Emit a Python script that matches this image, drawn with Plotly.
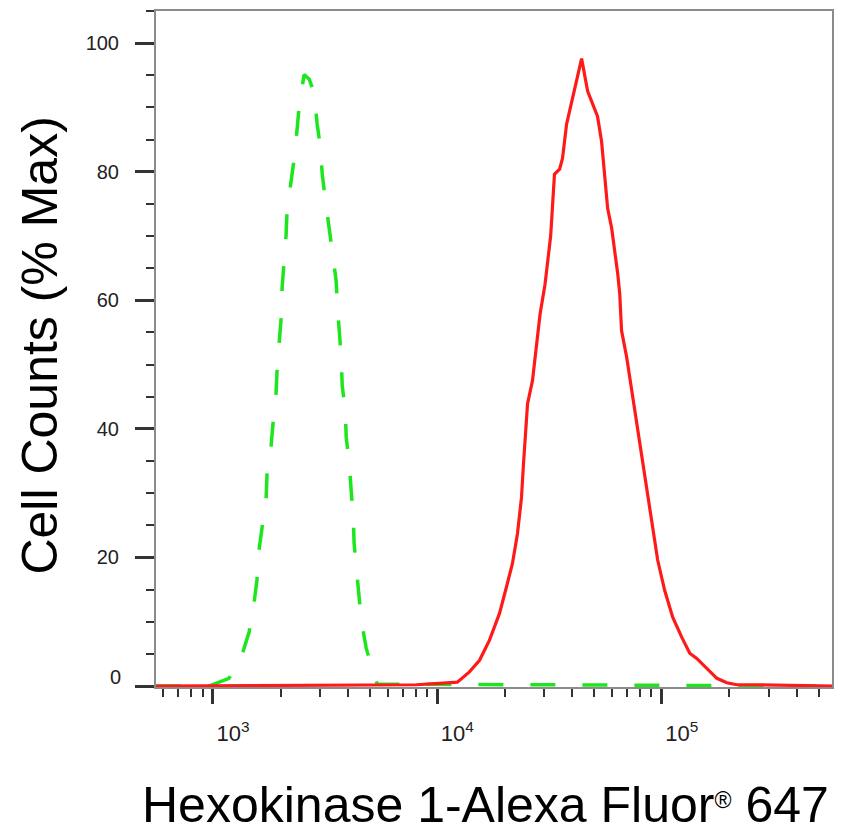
import plotly.graph_objects as go

# ---- data (log10 of fluorescence, % of max) ----
control_log = [2.746, 2.982, 3.071, 3.129, 3.161, 3.183, 3.196, 3.205, 3.219, 3.237, 3.241,
               3.259, 3.268, 3.281, 3.286, 3.295, 3.304, 3.308, 3.317, 3.326, 3.330, 3.348,
               3.362, 3.375, 3.384, 3.406, 3.429, 3.451, 3.464, 3.478, 3.487, 3.500, 3.518,
               3.531, 3.549, 3.554, 3.562, 3.571, 3.576, 3.589, 3.594, 3.607, 3.616, 3.625,
               3.629, 3.638, 3.652, 3.661, 3.683, 3.710, 3.732, 5.759]
control_pct = [0.0, 0.0, 1.2, 4.8, 8.4, 12.9, 16.5, 21.1, 24.7, 29.4, 33.1,
               37.4, 41.0, 45.5, 49.4, 53.7, 57.3, 61.9, 65.7, 70.3, 73.9, 78.5,
               82.1, 86.6, 90.2, 95.1, 94.4, 92.2, 87.5, 84.0, 79.6, 75.9, 71.2,
               67.7, 63.0, 59.4, 55.3, 51.4, 46.7, 43.1, 38.6, 34.8, 30.4, 26.5,
               22.2, 18.5, 14.1, 10.2, 5.9, 2.5, 0.3, 0.0]

sample_log = [2.746, 3.906, 4.009, 4.089, 4.143, 4.188, 4.232, 4.277, 4.308, 4.335, 4.357,
              4.375, 4.384, 4.393, 4.402, 4.424, 4.442, 4.458, 4.480, 4.505, 4.522, 4.545,
              4.558, 4.576, 4.589, 4.612, 4.634, 4.643, 4.670, 4.692, 4.714, 4.732, 4.746,
              4.759, 4.777, 4.790, 4.804, 4.813, 4.821, 4.844, 4.871, 4.893, 4.915, 4.938,
              4.960, 4.982, 5.013, 5.049, 5.089, 5.125, 5.156, 5.201, 5.246, 5.290, 5.335,
              5.415, 5.759]
sample_pct = [0.0, 0.2, 0.4, 0.6, 2.2, 4.0, 7.1, 11.3, 15.4, 19.1, 23.7,
              29.3, 34.6, 39.7, 43.9, 47.5, 52.6, 57.9, 62.5, 70.0, 79.6, 80.4,
              82.1, 87.4, 89.4, 93.0, 96.1, 97.6, 92.5, 90.5, 88.6, 84.7, 79.6,
              74.3, 71.2, 68.1, 64.1, 61.0, 55.3, 51.1, 44.9, 39.7, 34.6, 29.3,
              24.2, 19.6, 14.9, 10.7, 7.6, 5.1, 4.3, 2.8, 1.2, 0.5, 0.2,
              0.2, 0.0]

x_major = [1e3, 1e4, 1e5]
x_major_text = ["10<sup>3</sup>", "10<sup>4</sup>", "10<sup>5</sup>"]
x_minor = [6e2, 7e2, 8e2, 9e2, 2e3, 3e3, 4e3, 5e3, 6e3, 7e3, 8e3, 9e3,
           2e4, 3e4, 4e4, 5e4, 6e4, 7e4, 8e4, 9e4, 2e5, 3e5, 4e5, 5e5]
y_major = [0, 20, 40, 60, 80, 100]
y_major_text = ["", "20", "40", "60", "80", "100"]
y_zero_text = "0"

x_title = "Hexokinase 1-Alexa Fluor<span style='font-size:33px'><sup>®</sup></span> 647"
y_title = "Cell Counts (% Max)"

FONT = "Arial, Liberation Sans, sans-serif"

fig = go.Figure()
fig.add_trace(go.Scatter(
    x=[10 ** v for v in control_log], y=control_pct, mode="lines",
    line=dict(color="#1ee61e", width=3.5, dash="25px,27px"),
    showlegend=False, hoverinfo="skip"))
fig.add_trace(go.Scatter(
    x=[10 ** v for v in sample_log], y=sample_pct, mode="lines",
    line=dict(color="#ff1a1a", width=3.2),
    showlegend=False, hoverinfo="skip"))

# page body has an 8px margin, so the figure is 8px smaller and margins shifted
fig.update_layout(
    width=835, height=827,
    margin=dict(l=148, r=11, t=1, b=148),
    paper_bgcolor="white", plot_bgcolor="white",
    font=dict(family=FONT, color="#222"),
    xaxis=dict(
        type="log", range=[2.746, 5.759],
        showgrid=False, zeroline=False,
        showline=True, linecolor="#8c8c8c", linewidth=2, mirror=True,
        tickmode="array", tickvals=x_major, ticktext=x_major_text,
        ticks="outside", ticklen=15, tickwidth=3, tickcolor="#333",
        tickfont=dict(size=22, color="#222"),
        ticklabelshift=20, ticklabelstandoff=11,
        minor=dict(tickmode="array", tickvals=x_minor, ticks="outside",
                   ticklen=8, tickwidth=1.5, tickcolor="#333"),
    ),
    yaxis=dict(
        range=[-0.15, 105],
        showgrid=False, zeroline=False,
        showline=True, linecolor="#8c8c8c", linewidth=2, mirror=True,
        tickmode="array", tickvals=y_major, ticktext=y_major_text,
        ticks="outside", ticklen=19, tickwidth=3, tickcolor="#333",
        tickfont=dict(size=20, color="#222"),
        ticklabelstandoff=12,
        minor=dict(dtick=5, tick0=0, ticks="outside",
                   ticklen=8, tickwidth=1.5, tickcolor="#333"),
    ),
    annotations=[
        dict(text=y_zero_text, xref="paper", yref="y", x=0, y=y_major[0],
             xanchor="right", yanchor="middle", xshift=-33, yshift=9,
             showarrow=False, font=dict(size=20, color="#222", family=FONT)),
        dict(text=x_title, xref="paper", yref="paper", x=0.488, y=-0.174,
             xanchor="center", yanchor="middle", showarrow=False,
             font=dict(size=50, color="black", family=FONT)),
        dict(text=y_title, xref="paper", yref="paper", x=-0.1716, y=0.505,
             xanchor="center", yanchor="middle", textangle=-90, showarrow=False,
             font=dict(size=50, color="black", family=FONT)),
    ],
)

fig.write_html("out.html")
